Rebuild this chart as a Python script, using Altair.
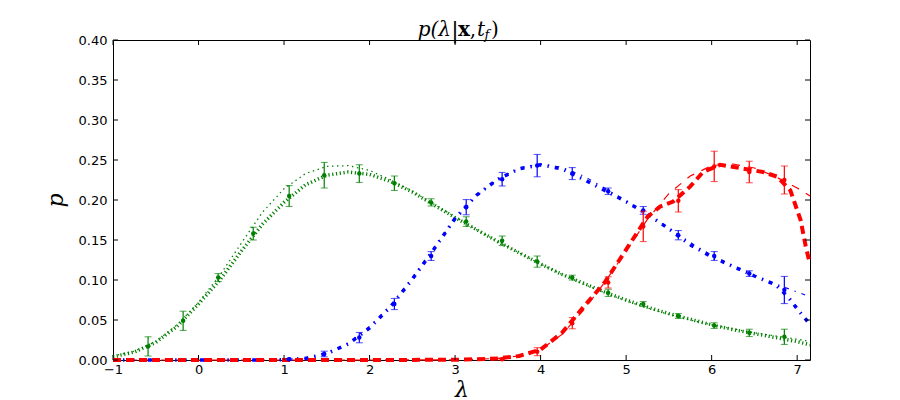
import altair as alt
import pandas as pd

# ---------------- data ----------------
curve_x = [-1.0, -0.75, -0.5, -0.25, 0.0, 0.25, 0.5, 0.75, 1.0, 1.25, 1.5, 1.75,
           2.0, 2.25, 2.5, 2.75, 3.0, 3.25, 3.5, 3.75, 4.0, 4.25, 4.5, 4.75,
           5.0, 5.25, 5.5, 5.75, 6.0, 6.25, 6.5, 6.75, 7.0, 7.15]

green_theory = [0.005, 0.011, 0.023, 0.044, 0.072, 0.106, 0.146, 0.185, 0.214, 0.233, 0.242, 0.243,
                0.237, 0.225, 0.211, 0.195, 0.179, 0.163, 0.148, 0.134, 0.120, 0.107, 0.095, 0.084,
                0.074, 0.065, 0.057, 0.050, 0.044, 0.039, 0.034, 0.030, 0.026, 0.023]
green_fit = [0.004, 0.010, 0.022, 0.042, 0.070, 0.100, 0.136, 0.170, 0.197, 0.219, 0.231, 0.235,
             0.232, 0.223, 0.210, 0.194, 0.178, 0.163, 0.148, 0.134, 0.120, 0.107, 0.096, 0.085,
             0.075, 0.066, 0.058, 0.051, 0.044, 0.038, 0.033, 0.028, 0.023, 0.019]

blue_theory = [0.0, 0.0, 0.0, 0.0, 0.0, 0.0, 0.0, 0.0, 0.0005, 0.002, 0.009, 0.021,
               0.042, 0.069, 0.103, 0.140, 0.176, 0.205, 0.226, 0.240, 0.245, 0.241, 0.230, 0.215,
               0.199, 0.182, 0.165, 0.147, 0.131, 0.118, 0.106, 0.095, 0.085, 0.079]
blue_fit_x = [-1.0, -0.75, -0.5, -0.25, 0.0, 0.25, 0.5, 0.75, 1.0, 1.25, 1.5, 1.75,
              2.0, 2.25, 2.5, 2.75, 3.0, 3.25, 3.5, 3.75, 4.0, 4.25, 4.5, 4.75,
              5.0, 5.25, 5.5, 5.75, 6.0, 6.25, 6.5, 6.75, 6.9, 7.0, 7.1, 7.15]
blue_fit = [0.0, 0.0, 0.0, 0.0, 0.0, 0.0, 0.0, 0.0, 0.0005, 0.002, 0.008, 0.020,
            0.040, 0.067, 0.101, 0.138, 0.177, 0.206, 0.226, 0.239, 0.244, 0.239, 0.226, 0.212,
            0.198, 0.182, 0.164, 0.144, 0.129, 0.117, 0.105, 0.094, 0.078, 0.064, 0.051, 0.044]

red_theory_x = [-1.0, 0.0, 1.0, 2.0, 3.0, 3.25, 3.5, 3.75, 4.0, 4.25, 4.5, 4.75,
                5.0, 5.25, 5.5, 5.75, 6.0, 6.25, 6.5, 6.75, 7.0, 7.15]
red_theory = [0.0, 0.0, 0.0, 0.0, 0.0003, 0.001, 0.002, 0.005, 0.013, 0.032, 0.062, 0.097,
              0.136, 0.176, 0.208, 0.230, 0.243, 0.245, 0.240, 0.229, 0.215, 0.205]
red_fit_x = [-1.0, 0.0, 1.0, 2.0, 3.0, 3.25, 3.5, 3.75, 4.0, 4.25, 4.5, 4.75, 5.0,
             5.25, 5.4, 5.55, 5.75, 5.9, 6.1, 6.33, 6.6, 6.77, 6.92, 7.04, 7.1, 7.15]
red_fit = [0.0, 0.0, 0.0, 0.0, 0.0003, 0.001, 0.002, 0.005, 0.013, 0.034, 0.066, 0.097, 0.138,
           0.179, 0.192, 0.198, 0.217, 0.235, 0.244, 0.240, 0.235, 0.229, 0.212, 0.175, 0.142, 0.120]

green_pts_x = [-0.59, -0.18, 0.23, 0.64, 1.06, 1.47, 1.88, 2.29, 2.72, 3.13, 3.55, 3.96,
               4.37, 4.79, 5.20, 5.61, 6.03, 6.44, 6.85]
green_pts_y = [0.017, 0.049, 0.103, 0.158, 0.205, 0.231, 0.233, 0.221, 0.197, 0.173, 0.149, 0.123,
               0.103, 0.084, 0.070, 0.055, 0.043, 0.034, 0.029]
green_err = [0.012, 0.012, 0.005, 0.008, 0.013, 0.016, 0.011, 0.009, 0.0045, 0.006, 0.006, 0.007,
             0.003, 0.0045, 0.003, 0.003, 0.0035, 0.0045, 0.0095]

blue_pts_x = [1.06, 1.47, 1.88, 2.29, 2.72, 3.13, 3.55, 3.96, 4.37, 4.79, 5.20, 5.61, 6.03, 6.44, 6.85]
blue_pts_y = [0.001, 0.0075, 0.028, 0.070, 0.130, 0.191, 0.226, 0.243, 0.233, 0.211, 0.187, 0.156,
              0.130, 0.108, 0.0875]
blue_err = [0.001, 0.0035, 0.0065, 0.007, 0.0055, 0.0095, 0.0085, 0.014, 0.0075, 0.004, 0.0048,
            0.0058, 0.0055, 0.0035, 0.017]

red_pts_x = [3.55, 3.96, 4.37, 4.79, 5.20, 5.61, 6.03, 6.44, 6.85]
red_pts_y = [0.001, 0.0104, 0.046, 0.097, 0.167, 0.199, 0.242, 0.235, 0.225]
red_err = [0.001, 0.005, 0.007, 0.007, 0.019, 0.014, 0.019, 0.0135, 0.0175]

x_ticks = [-1, 0, 1, 2, 3, 4, 5, 6, 7]
y_ticks = [0.0, 0.05, 0.10, 0.15, 0.20, 0.25, 0.30, 0.35, 0.40]

GREEN, BLUE, RED = "#008000", "#0000ff", "#ff0000"
W, H = 697, 320

xscale = alt.Scale(domain=[-1.0, 7.15], nice=False, zero=False)
yscale = alt.Scale(domain=[0.0, 0.4], nice=False, zero=True)

xaxis = alt.Axis(values=x_ticks, format="d", ticks=False, domain=False, grid=False,
                 labelFont="DejaVu Sans", labelFontSize=13, labelColor="black", labelPadding=3,
                 title="λ", titleFont="DejaVu Serif", titleFontStyle="italic", titleFontWeight="normal",
                 titleFontSize=22, titleColor="black", titlePadding=3, labelFlush=False)
yaxis = alt.Axis(values=y_ticks, format=".2f", ticks=False, domain=False, grid=False,
                 labelFont="DejaVu Sans", labelFontSize=13, labelColor="black", labelPadding=6,
                 title="p", titleFont="DejaVu Serif", titleFontStyle="italic", titleFontWeight="normal",
                 titleFontSize=22, titleColor="black", titlePadding=11, labelFlush=False)


def X(field="x"):
    return alt.X(f"{field}:Q", scale=xscale, axis=xaxis)


def Y(field="y"):
    return alt.Y(f"{field}:Q", scale=yscale, axis=yaxis)


def curve(xs, ys, color, width, dash, opacity=1.0):
    df = pd.DataFrame({"x": xs, "y": ys})
    return alt.Chart(df).mark_line(color=color, strokeWidth=width, strokeDash=dash,
                                   opacity=opacity).encode(x=X(), y=Y())


def errbars(xs, ys, errs, color):
    df = pd.DataFrame({"x": xs, "y": ys, "e": errs})
    base = alt.Chart(df).transform_calculate(lo="datum.y - datum.e", hi="datum.y + datum.e")
    rule = base.mark_rule(color=color, strokeWidth=1.2).encode(x=X(), y=Y("lo"), y2="hi:Q")
    cap_lo = base.mark_tick(color=color, orient="horizontal", size=7, thickness=1).encode(x=X(), y=Y("lo"))
    cap_hi = base.mark_tick(color=color, orient="horizontal", size=7, thickness=1).encode(x=X(), y=Y("hi"))
    pts = base.mark_point(color=color, filled=True, size=20, opacity=1).encode(x=X(), y=Y())
    return [rule, cap_lo, cap_hi, pts]


layers = [
    curve(curve_x, green_theory, GREEN, 1.3, [1.4, 3.6]),
    curve(curve_x, blue_theory, BLUE, 1.1, [4, 6, 1.4, 6]),
    curve(red_theory_x, red_theory, RED, 1.2, [8, 8]),
    curve(curve_x, green_fit, GREEN, 3.5, [1.2, 2.6]),
    curve(blue_fit_x, blue_fit, BLUE, 3.5, [4, 6, 1.4, 6]),
    curve(red_fit_x, red_fit, RED, 4, [8, 5]),
]
layers += errbars(green_pts_x, green_pts_y, green_err, GREEN)
layers += errbars(blue_pts_x, blue_pts_y, blue_err, BLUE)
layers += errbars(red_pts_x, red_pts_y, red_err, RED)

# inward ticks on all four sides
xt = pd.DataFrame({"t": x_ticks})
yt = pd.DataFrame({"t": y_ticks})
layers += [
    alt.Chart(xt).mark_rule(color="black", strokeWidth=1).encode(x=X("t"), y=alt.value(H), y2=alt.value(H - 5)),
    alt.Chart(xt).mark_rule(color="black", strokeWidth=1).encode(x=X("t"), y=alt.value(0), y2=alt.value(5)),
    alt.Chart(yt).mark_rule(color="black", strokeWidth=1).encode(y=Y("t"), x=alt.value(0), x2=alt.value(5)),
    alt.Chart(yt).mark_rule(color="black", strokeWidth=1).encode(y=Y("t"), x=alt.value(W - 5), x2=alt.value(W)),
]

# title p(λ|x, t_f) built from pieces
title_main = "p(λ"
title_bar = "|"
title_bold = "x"
title_comma = ","
title_t = "t"
title_sub = "f"
title_close = ")"


def piece(txt, px, py, size, style="italic", weight="normal", align="center"):
    return alt.Chart(pd.DataFrame({"s": [txt]})).mark_text(
        font="DejaVu Serif", fontSize=size, fontStyle=style, fontWeight=weight,
        align=align, baseline="alphabetic", color="black"
    ).encode(text="s:N", x=alt.value(px), y=alt.value(py))


layers += [
    piece(title_main, 338, -4, 20, align="right"),
    piece(title_bar, 342, -2, 22, style="normal"),
    piece(title_bold, 351, -4, 20, style="normal", weight="bold"),
    piece(title_comma, 360, -4, 20, style="normal"),
    piece(title_t, 368, -4, 20),
    piece(title_sub, 374, -1, 13),
    piece(title_close, 378, -4, 20, style="normal", align="left"),
]

chart = alt.layer(*layers).properties(
    width=W, height=H,
    padding={"left": 105, "top": 32, "right": 70, "bottom": 44},
    autosize=alt.AutoSizeParams(type="none"),
    background="white",
).configure_view(stroke="black", strokeWidth=1)

chart.save("out.html", embed_options={"renderer": "svg", "actions": False})
